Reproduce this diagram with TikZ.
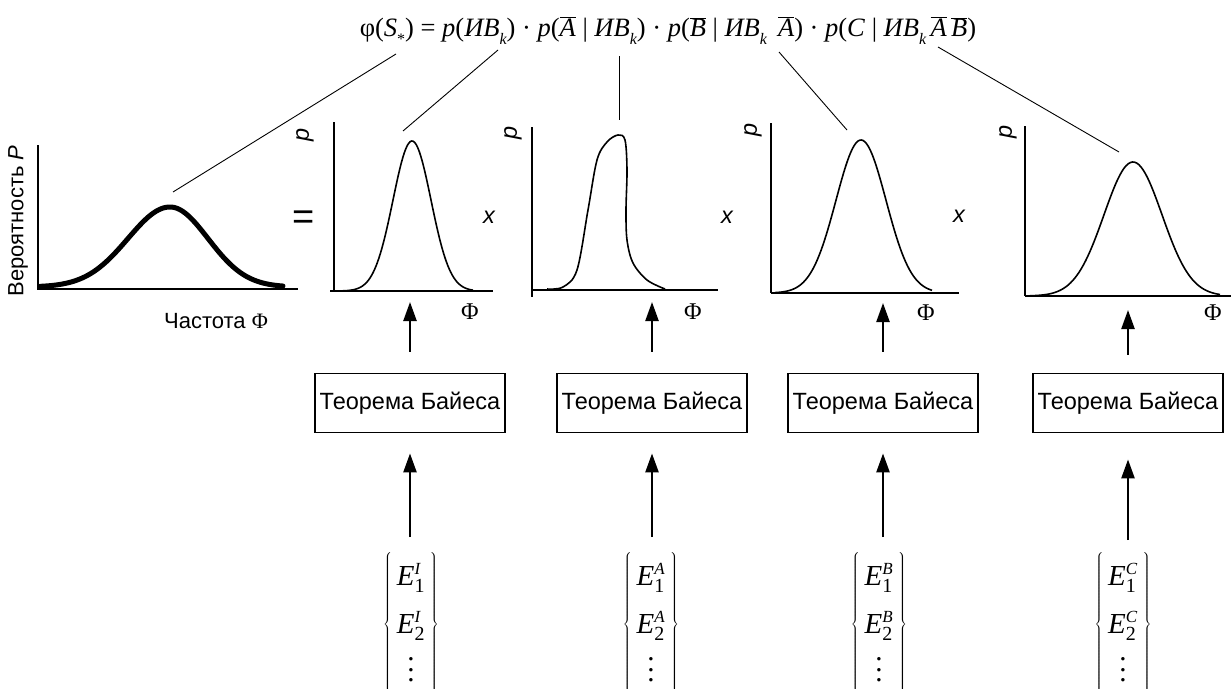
\RequirePackage{fix-cm}
\documentclass[tikz,border=0pt]{standalone}
\usepackage{fontspec}
\setmainfont{Liberation Sans}
\newfontfamily\tms{Liberation Serif}
\usetikzlibrary{arrows.meta}
\newcommand\sbs[1]{\raisebox{-0.32em}{\fontsize{16}{16}\selectfont\itshape #1}}
\newcommand\ob[1]{$\overline{\hbox{\itshape #1}}$}
\newcommand\Ev[2]{\mbox{\itshape E}^{\mbox{\fontsize{17}{17}\selectfont\itshape #2}}_{\mbox{\fontsize{20}{20}\selectfont #1}}}
\newcommand\mydots{\vbox{\baselineskip=10.5pt\lineskiplimit=0pt\kern2pt\hbox{.}\hbox{.}\hbox{.}}}
\newcommand\Eset[1]{$\renewcommand\arraystretch{1.42}\left\{\begin{array}{@{\,}c@{\,}}\Ev{1}{#1}\\ \Ev{2}{#1}\\ \mydots\end{array}\right\}$}
\tikzset{
  axisline/.style={line width=1.6pt},
  curve/.style={line width=1.6pt},
  thickcurve/.style={line width=5pt,line cap=round},
  conn/.style={line width=0.9pt},
  arr/.style={line width=2.4pt,-{Triangle[length=19pt,width=13pt]}},
  bayes/.style={draw,line width=1.8pt,minimum width=190pt,minimum height=59pt,inner sep=0pt,font=\fontsize{23.5}{28}\selectfont},
  lbl/.style={font=\fontsize{23.5}{28}\selectfont\itshape,inner sep=0pt},
  axlbl/.style={font=\fontsize{22}{26}\selectfont,inner sep=0pt},
  philbl/.style={font=\fontsize{24}{28}\selectfont\tms,inner sep=0pt},
  eset/.style={font=\fontsize{29}{34}\selectfont\tms,inner sep=0pt},
  formula/.style={font=\fontsize{26.5}{30}\selectfont\tms,inner sep=0pt},
}
\begin{document}
\begin{tikzpicture}[x=1pt,y=-1pt]
\useasboundingbox (0,0) rectangle (1231,688);
\clip (0,0) rectangle (1231,688);

% formula
\node[formula] (f) at (668,31) {φ(\textit{S}\sbs{\upshape *}) = \textit{p}(\textit{ИB}\sbs{k}) · \textit{p}(\ob{A} | \textit{ИB}\sbs{k}) · \textit{p}(\ob{B} | \textit{ИB}\sbs{k}\, \ob{A}) · \textit{p}(\textit{C} | \textit{ИB}\sbs{k}\,\ob{A}\,\ob{B})};

% left graph
\draw[axisline] (38,145) -- (38,290);
\draw[axisline] (38,289) -- (298,289);
\draw[thickcurve] plot[domain=40:170,samples=60] (\x,{287-80*exp(-0.5*((\x-170)/42)^2)})
  -- plot[domain=170:283,samples=60] (\x,{287-80*exp(-0.5*((\x-170)/38)^2)});
\coordinate (g0) at (173,192);
\node[axlbl,rotate=90] (ylab) at (18,221) {Вероятность \textit{P}};
\node[axlbl] (xlab) at (216,321) {Частота {\tms Φ}};
\node[font=\fontsize{38}{40}\selectfont,inner sep=0pt] (eq) at (304,220) {=};

% graph 1
\draw[axisline] (334,122) -- (334,292);
\draw[axisline] (330,291) -- (493,291);
\draw[curve] plot[domain=340:473,samples=90] (\x,{291-150*exp(-0.5*((\x-412)/19)^2)});
\coordinate (g1) at (403,131);
\node[lbl,rotate=90] (p1) at (305,135) {p};
\node[lbl] (x1) at (489,217) {x};
\node[philbl] (phi1) at (470,312) {Φ};

% graph 2
\draw[axisline] (532,127) -- (532,297);
\draw[axisline] (532,290) -- (718,290);
\draw[curve] plot[smooth,tension=0.55] coordinates {(547,289) (563,287) (577,270) (588,210) (597,160) (607,142) (618,135) (625,140) (627,170) (626,210) (627,240) (633,263) (647,280) (665,289)};
\coordinate (g2) at (619,120);
\node[lbl,rotate=90] (p2) at (513,133) {p};
\node[lbl] (x2) at (727,217) {x};
\node[philbl] (phi2) at (693,312) {Φ};

% graph 3
\draw[axisline] (771,123) -- (771,293);
\draw[axisline] (771,293) -- (959,293);
\draw[curve] plot[domain=775:932,samples=90] (\x,{293-153*exp(-0.5*((\x-861)/25)^2)});
\coordinate (g3) at (847,130);
\node[lbl,rotate=90] (p3) at (753,130) {p};
\node[lbl] (x3) at (959,216) {x};
\node[philbl] (phi3) at (926,313) {Φ};

% graph 4
\draw[axisline] (1025,126) -- (1025,296);
\draw[axisline] (1025,296) -- (1231,296);
\draw[curve] plot[domain=1030:1220,samples=90] (\x,{296-134*exp(-0.5*((\x-1133)/29)^2)});
\coordinate (g4) at (1119,152);
\node[lbl,rotate=90] (p4) at (1008,132) {p};
\node[philbl] (phi4) at (1213,313) {Φ};

% connectors from formula
\coordinate (f0) at (396,54);
\coordinate (f1) at (498,50);
\coordinate (f2) at (619,56);
\coordinate (f3) at (779,52);
\coordinate (f4) at (938,47);
\draw[conn] (f0) -- (g0);
\draw[conn] (f1) -- (g1);
\draw[conn] (f2) -- (g2);
\draw[conn] (f3) -- (g3);
\draw[conn] (f4) -- (g4);

% Bayes boxes
\node[bayes] (b1) at (410,403) {Теорема Байеса};
\node[bayes] (b2) at (652,403) {Теорема Байеса};
\node[bayes] (b3) at (883,403) {Теорема Байеса};
\node[bayes] (b4) at (1128,403) {Теорема Байеса};

% arrows up to graphs
\coordinate (t1) at (410,302);
\coordinate (t2) at (652,302);
\coordinate (t3) at (883,303);
\coordinate (t4) at (1128,310);
\draw[arr] ([yshift=21pt]b1.north) -- (t1);
\draw[arr] ([yshift=21pt]b2.north) -- (t2);
\draw[arr] ([yshift=21pt]b3.north) -- (t3);
\draw[arr] ([yshift=18pt]b4.north) -- (t4);

% evidence sets
\node[eset] (e1) at (411,624) {\Eset{I}};
\node[eset] (e2) at (651,624) {\Eset{A}};
\node[eset] (e3) at (879,624) {\Eset{B}};
\node[eset] (e4) at (1123,624) {\Eset{C}};

% arrows up to boxes
\coordinate (l1) at (410,537);
\coordinate (l2) at (652,537);
\coordinate (l3) at (883,537);
\coordinate (l4) at (1128,540);
\draw[arr] (l1) -- ([yshift=-20pt]b1.south);
\draw[arr] (l2) -- ([yshift=-20pt]b2.south);
\draw[arr] (l3) -- ([yshift=-20pt]b3.south);
\draw[arr] (l4) -- ([yshift=-26pt]b4.south);
\end{tikzpicture}
\end{document}
